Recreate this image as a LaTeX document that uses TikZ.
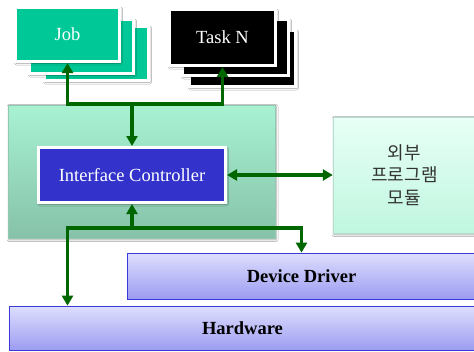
\documentclass[tikz,border=0pt]{standalone}
\usepackage{fontspec}
\setmainfont{Liberation Serif}
\newfontfamily\kofont{Noto Sans CJK KR}
\usetikzlibrary{arrows.meta,shadows.blur}

\definecolor{jobgreen}{HTML}{00C896}
\definecolor{icblue}{HTML}{3333CC}
\definecolor{arrgreen}{HTML}{006600}
\definecolor{mintTop}{HTML}{A8F2D2}
\definecolor{mintBot}{HTML}{86C2A9}
\definecolor{extTop}{HTML}{E8FFF6}
\definecolor{extBot}{HTML}{C0F6E0}
\definecolor{lavTop}{HTML}{DEDEFE}
\definecolor{lavBot}{HTML}{9C9CF2}
\definecolor{layerline}{HTML}{3A3AD8}

\begin{document}
\begin{tikzpicture}[x=1pt,y=-1pt,
  shadowed/.style={blur shadow={shadow xshift=1pt,shadow yshift=-1.5pt,shadow blur radius=2pt,shadow opacity=40}},
  card/.style={draw=white,line width=3pt,minimum width=104pt,minimum height=54pt,inner sep=0pt,shadowed},
  jobcard/.style={card,fill=jobgreen},
  taskcard/.style={card,fill=black,minimum width=106pt,minimum height=56pt},
  label/.style={font=\fontsize{18.5}{22}\selectfont},
  layer/.style={draw=layerline,line width=0.8pt,top color=lavTop,bottom color=lavBot,inner sep=0pt,
    font=\fontsize{18.5}{22}\selectfont\bfseries},
  tip/.style={Triangle[length=10pt,width=11pt]},
  arr/.style={draw=arrgreen,line width=3.2pt,-{Triangle[length=10pt,width=11pt]}},
  arrboth/.style={draw=arrgreen,line width=3.2pt,{Triangle[length=10pt,width=11pt]}-{Triangle[length=10pt,width=11pt]}}
]
\useasboundingbox (0,0) rectangle (474,351);
\fill[white] (0,0) rectangle (474,351);

% job cards
\node[jobcard] (job3) at (96.5,53.5) {};
\node[jobcard] (job2) at (81.5,46.5) {};
\node[jobcard,label,text=white] (job) at (67.5,34.5) {Job};

% task cards
\node[taskcard] (task3) at (242.5,58.5) {};
\node[taskcard] (task2) at (235.5,47.5) {};
\node[taskcard,label,text=white] (task) at (222.5,37.5) {Task N};

% container of the interface controller
\node[draw=mintBot!90!white,line width=0.4pt,top color=mintTop,bottom color=mintBot,
  minimum width=267pt,minimum height=133pt,inner sep=0pt,shadowed] (core) at (141.5,171.5) {};
\node[draw=white,line width=3pt,fill=icblue,minimum width=187pt,minimum height=55pt,
  inner sep=0pt,shadowed,label,text=white] (ic) at (132,175) {Interface Controller};

% external program module
\node[draw=extBot!80!gray,line width=0.4pt,top color=extTop,bottom color=extBot,
  minimum width=143pt,minimum height=116pt,inner sep=0pt,shadowed,
  align=center,text=black!80,font=\kofont\fontsize{18}{22.5}\selectfont] (ext) at (404.5,175)
  {외부\\프로그램\\모듈};

% layers
\node[layer,minimum width=349pt,minimum height=46pt] (dd) at (301.5,276) {Device Driver};
\node[layer,minimum width=467pt,minimum height=44pt] (hw) at (242.5,328) {Hardware};

% connectors
\coordinate (jtop) at (132,104);
\coordinate (jbot) at (132,228);
\draw[arrboth] (job.south) |- (jtop) -| (task.south);
\draw[arr] (jtop) -- (ic.north);
\draw[arrboth] (ic.east) -- (ext.west);
\draw[arr] (jbot) -- (ic.south);
\draw[arr] (jbot) -| (hw.north -| job.south);
\draw[arr] (jbot) -| (dd.north);
\end{tikzpicture}
\end{document}
